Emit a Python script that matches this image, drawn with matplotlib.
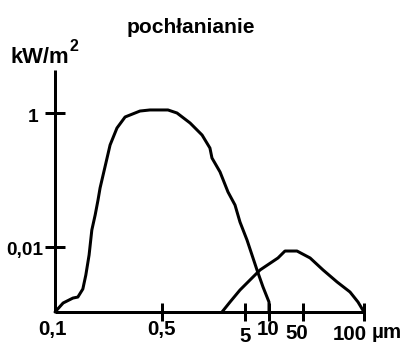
import numpy as np
import matplotlib
matplotlib.use("Agg")
import matplotlib.pyplot as plt

plt.rcParams['font.family'] = ['Liberation Sans', 'DejaVu Sans']
plt.rcParams['font.weight'] = 'bold'

# ---------------- data ----------------
title = "pochłanianie"
y_unit = "kW/m"
y_unit_sup = "2"
x_unit = "µm"

x_tick_values = [0.1, 0.5, 5, 10, 50, 100]
x_tick_labels = ["0,1", "0,5", "5", "10", "50", "100"]
y_tick_values = [1, 0.01]
y_tick_labels = ["1", "0,01"]

# first absorption band (µm, kW/m^2)
curve1_um = [0.1, 0.113, 0.131, 0.141, 0.152, 0.159, 0.167, 0.174, 0.183, 0.191,
             0.197, 0.212, 0.229, 0.254, 0.287, 0.359, 0.417, 0.590, 0.758, 1.09,
             1.52, 1.89, 2.0, 2.5, 3.12, 3.79, 4.35, 5.3, 7.07, 8.41, 10.0, 10.0]
curve1_kw = [0.00107, 0.00146, 0.00173, 0.00179, 0.00236, 0.00382, 0.0076, 0.0179,
             0.0301, 0.0503, 0.076, 0.156, 0.333, 0.597, 0.872, 1.07, 1.11, 1.11,
             1.0, 0.709, 0.469, 0.300, 0.213, 0.132, 0.0662, 0.0423, 0.0236,
             0.0127, 0.00454, 0.00253, 0.00151, 0.00107]

# second absorption band (µm, kW/m^2)
curve2_um = [2.64, 3.30, 4.35, 5.78, 7.72, 11.5, 15.3, 21.3, 37.6, 54.2, 62.8,
             73.6, 85.3, 93.4, 100.0]
curve2_kw = [0.00107, 0.00151, 0.00228, 0.00322, 0.00454, 0.00597, 0.00686,
             0.00871, 0.00871, 0.00686, 0.00454, 0.00301, 0.00213, 0.00151,
             0.00107]

# ---------------- layout (schematic, non-uniform x axis) ----------------
x_tick_px = [0, 107, 190, 214, 248, 309]
W, H = 409, 355
DPI = 72

LOG_T = np.log10(x_tick_values)
POS_T = np.array(x_tick_px, float)


def fwd(x):
    lx = np.log10(np.clip(np.asarray(x, float), 1e-12, None))
    return np.interp(lx, LOG_T, POS_T)


def inv(p):
    return 10 ** np.interp(np.asarray(p, float), POS_T, LOG_T)


fig = plt.figure(figsize=(W / DPI, H / DPI), dpi=DPI)
ax = fig.add_axes([55 / W, (H - 312) / H, (364 - 55) / W, (312 - 70) / H])
ax.set_xscale('function', functions=(fwd, inv))
ax.set_yscale('log')
ax.set_xlim(x_tick_values[0], x_tick_values[-1])
ax.set_ylim(10 ** (-(312 - 113) / 67), 10 ** ((113 - 70) / 67))

lw = 3
ax.plot(curve1_um, curve1_kw, color='black', lw=lw, solid_joinstyle='round',
        solid_capstyle='round', clip_on=False)
ax.plot(curve2_um, curve2_kw, color='black', lw=lw, solid_joinstyle='round',
        solid_capstyle='round', clip_on=False)

for s in ['top', 'right']:
    ax.spines[s].set_visible(False)
for s in ['left', 'bottom']:
    ax.spines[s].set_linewidth(lw)
    ax.spines[s].set_capstyle('butt')

ax.set_xticks(x_tick_values[1:])
ax.set_xticklabels([])
ax.xaxis.set_minor_locator(matplotlib.ticker.NullLocator())
ax.tick_params(axis='x', direction='inout', length=18, width=lw, color='black')
ax.set_yticks(y_tick_values)
ax.set_yticklabels([])
ax.yaxis.set_minor_locator(matplotlib.ticker.NullLocator())
ax.tick_params(axis='y', direction='inout', length=20, width=lw, color='black')

# x tick labels (hand placed in the original)
x_lab_dx = [-3, 0, 0, -1, -6, -14]
x_lab_dy = [-23, -23, -30, -23, -27, -28]
for v, lab, dx, dy in zip(x_tick_values, x_tick_labels, x_lab_dx, x_lab_dy):
    ax.annotate(lab, xy=(v, 0), xycoords=('data', 'axes fraction'),
                xytext=(dx, dy), textcoords='offset points',
                ha='center', va='baseline', fontsize=20.5, fontweight='bold')
ax.annotate(x_unit, xy=(x_tick_values[-1], 0), xycoords=('data', 'axes fraction'),
            xytext=(8, -26), textcoords='offset points',
            ha='left', va='baseline', fontsize=20.5, fontweight='bold')

# y tick labels
y_lab_dx = [-22, -30]
y_lab_dy = [-9, -8]
for v, lab, dx, dy in zip(y_tick_values, y_tick_labels, y_lab_dx, y_lab_dy):
    ax.annotate(lab, xy=(0, v), xycoords=('axes fraction', 'data'),
                xytext=(dx, dy), textcoords='offset points',
                ha='center', va='baseline', fontsize=19, fontweight='bold')

# title and unit
fig.text(190.5 / W, 1 - 33 / H, title, ha='center', va='baseline',
         fontsize=21, fontweight='bold')
fig.text(11 / W, 1 - 63 / H, y_unit, ha='left', va='baseline',
         fontsize=22, fontweight='bold')
fig.text(70 / W, 1 - 51 / H, y_unit_sup, ha='left', va='baseline',
         fontsize=16, fontweight='bold')

fig.savefig('out.png', dpi=DPI, facecolor='white')
